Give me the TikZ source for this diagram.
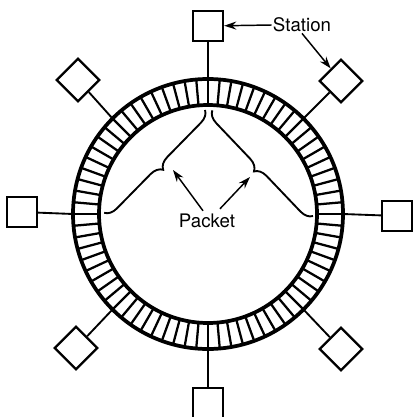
\documentclass[tikz,border=0pt]{standalone}
\usepackage{fontspec}
\setmainfont{TeX Gyre Heros}
\usetikzlibrary{calc, arrows.meta, decorations.pathreplacing}

\tikzset{
    station/.style={draw=black, line width=1.8pt, minimum size=22.5pt, inner sep=0pt},
    link/.style={line width=1.4pt},
    cell/.style={line width=1.7pt},
    pointer/.style={line width=1.1pt, -{Stealth[length=9pt, width=6pt]}},
    packet/.style={line width=1.4pt, decorate, decoration={brace, amplitude=9pt, aspect=0.5}},
    label/.style={inner sep=0.75pt, font=\fontsize{14}{16}\selectfont}
}

\begin{document}
\begin{tikzpicture}[x=0.75pt,y=0.75pt,yscale=-1,xscale=1]
    \useasboundingbox (0,0) rectangle (413,417);

    %Ring centre
    \coordinate (c) at (208,214);

    %Ring slots
    \foreach \a in {0,5,...,355}
        \draw [cell] ([shift={(\a:109)}]c) -- ([shift={(\a:135)}]c);
    %Shape: Circle (outer and inner rim)
    \draw [line width=2.8pt] (c) circle [radius=135];
    \draw [line width=2.8pt] (c) circle [radius=109];

    %Stations
    \node [station] (stN) at (208,26) {};
    \node [station, rotate=45] (stNE) at (341,81) {};
    \node [station] (stE) at (397,216) {};
    \node [station, rotate=45] (stSE) at (341,349) {};
    \node [station] (stS) at (208,403) {};
    \node [station, rotate=45] (stSW) at (76,348) {};
    \node [station] (stW) at (22,212) {};
    \node [station, rotate=45] (stNW) at (78,80) {};

    %Taps onto the ring
    \coordinate (rN) at (208,79);
    \coordinate (rNE) at (303.5,118.5);
    \coordinate (rE) at (343,214);
    \coordinate (rSE) at (303.5,309.5);
    \coordinate (rS) at (208,349);
    \coordinate (rSW) at (112.5,309.5);
    \coordinate (rW) at (73,214);
    \coordinate (rNW) at (112.5,118.5);
    \foreach \d in {N,NE,E,SE,S,SW,W,NW}
        \draw [link] (st\d) -- (r\d);

    %Packets on the ring
    \coordinate (pkL1) at (205,110);
    \coordinate (pkL2) at (104,213);
    \coordinate (pkR1) at (313,216);
    \coordinate (pkR2) at (212,110);
    \draw [packet] (pkL1) -- (pkL2);
    \draw [packet] (pkR1) -- (pkR2);
    \coordinate (tipL) at (173,170);
    \coordinate (tipR) at (250,177);

    % Text Node
    \node [label] (pkt) at (207,221) {Packet};
    \draw [pointer] ($(pkt.north)+(-4,-2)$) -- (tipL);
    \draw [pointer] ($(pkt.north)+(13,-4)$) -- (tipR);

    % Text Node
    \node [label] (stn) at (302,25) {Station};
    \draw [pointer] (stn.west) -- (stN);
    \draw [pointer] (stn.south) -- (stNE);

\end{tikzpicture}
\end{document}
